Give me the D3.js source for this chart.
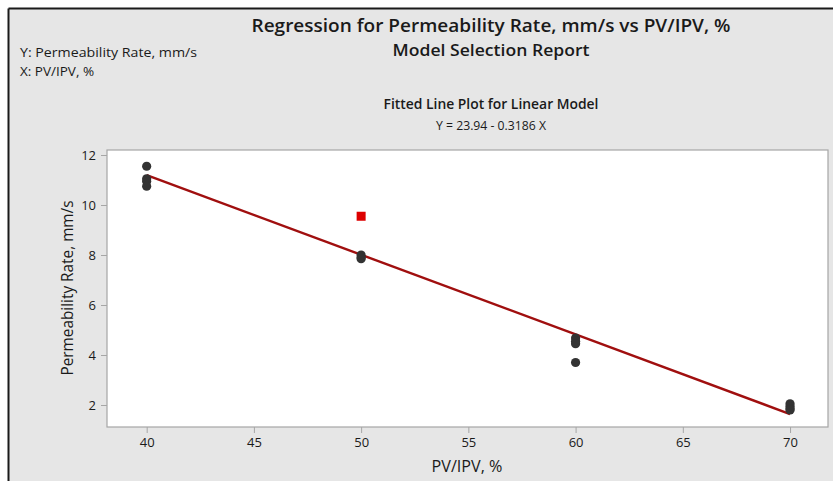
<!DOCTYPE html>
<html>
<head>
<meta charset="utf-8">
<script src="https://cdn.jsdelivr.net/npm/d3@7"></script>
<style>
  html, body { margin: 0; padding: 0; background: #ffffff; }
  svg { display: block; }
  text { font-family: "Open Sans", "Noto Sans", sans-serif; fill: #1a1a1a; }
</style>
</head>
<body>
<svg id="chart" width="833" height="481"></svg>
<script>
// Observations: PV/IPV (%) and permeability rate (mm/s)
const pvIpv = [40, 40, 40, 40, 50, 50, 50, 60, 60, 60, 60, 70, 70, 70, 70];
const permeability = [11.55, 11.05, 10.95, 10.75, 8.0, 7.9, 7.85, 4.68, 4.55, 4.45, 3.7, 2.05, 1.95, 1.85, 1.8];
// Unusual observation flagged in red
const unusualX = [50];
const unusualY = [9.55];
// Fitted model Y = b0 + b1 X
const intercept = 23.94;
const slope = -0.3186;
const xTicks = [40, 45, 50, 55, 60, 65, 70];
const yTicks = [2, 4, 6, 8, 10, 12];

const svg = d3.select("#chart");

// Report panel background with dark frame on top/left
svg.append("rect").attr("x", 9).attr("y", 9).attr("width", 824).attr("height", 472).attr("fill", "#e6e6e6");
svg.append("line").attr("x1", 8.5).attr("x2", 833).attr("y1", 8.5).attr("y2", 8.5).attr("stroke", "#1a1a1a").attr("stroke-width", 2);
svg.append("line").attr("x1", 8.5).attr("x2", 8.5).attr("y1", 8.5).attr("y2", 481).attr("stroke", "#1a1a1a").attr("stroke-width", 2);

// Headings
svg.append("text").attr("x", 491).attr("y", 32).attr("text-anchor", "middle")
  .style("font-size", "18.5px").style("font-weight", 600)
  .attr("textLength", 479).attr("lengthAdjust", "spacingAndGlyphs")
  .text("Regression for Permeability Rate, mm/s vs PV/IPV, %");
svg.append("text").attr("x", 491).attr("y", 56).attr("text-anchor", "middle")
  .style("font-size", "16.5px").style("font-weight", 600)
  .attr("textLength", 197).attr("lengthAdjust", "spacingAndGlyphs")
  .text("Model Selection Report");
svg.append("text").attr("x", 20).attr("y", 57).style("font-size", "13.5px")
  .attr("textLength", 177).attr("lengthAdjust", "spacingAndGlyphs")
  .text("Y: Permeability Rate, mm/s");
svg.append("text").attr("x", 20).attr("y", 76).style("font-size", "13.5px")
  .text("X: PV/IPV, %");
svg.append("text").attr("x", 491).attr("y", 109).attr("text-anchor", "middle")
  .style("font-size", "14.5px").style("font-weight", 600)
  .attr("textLength", 215).attr("lengthAdjust", "spacingAndGlyphs")
  .text("Fitted Line Plot for Linear Model");
svg.append("text").attr("x", 491).attr("y", 130).attr("text-anchor", "middle")
  .style("font-size", "13.5px")
  .attr("textLength", 110).attr("lengthAdjust", "spacingAndGlyphs")
  .text("Y = 23.94 - 0.3186 X");

// Plot area
const plotL = 107, plotR = 828, plotT = 150, plotB = 427;
const x = d3.scaleLinear().domain([38.15, 71.77]).range([plotL, plotR]);
const y = d3.scaleLinear().domain([1.12, 12.2]).range([plotB, plotT]);

svg.append("rect").attr("x", plotL).attr("y", plotT).attr("width", plotR - plotL).attr("height", plotB - plotT)
  .attr("fill", "#ffffff").attr("stroke", "#a6a6a6").attr("stroke-width", 1.2);

const xAxis = svg.append("g").attr("transform", `translate(0,${plotB})`)
  .call(d3.axisBottom(x).tickValues(xTicks).tickSize(6).tickPadding(5).tickFormat(d3.format("d")));
const yAxis = svg.append("g").attr("transform", `translate(${plotL},0)`)
  .call(d3.axisLeft(y).tickValues(yTicks).tickSize(6).tickPadding(5).tickFormat(d3.format("d")));
[xAxis, yAxis].forEach(g => {
  g.select(".domain").remove();
  g.selectAll(".tick line").attr("stroke", "#a6a6a6");
  g.selectAll(".tick text").style("font-size", "13px").style("font-family", "'Open Sans', sans-serif").attr("fill", "#1a1a1a");
});

svg.append("text").attr("x", 467).attr("y", 472).attr("text-anchor", "middle")
  .style("font-size", "15.5px").attr("textLength", 71).attr("lengthAdjust", "spacingAndGlyphs")
  .text("PV/IPV, %");
svg.append("text").attr("transform", "translate(73,288) rotate(-90)").attr("text-anchor", "middle")
  .style("font-size", "15.5px").attr("textLength", 175).attr("lengthAdjust", "spacingAndGlyphs")
  .text("Permeability Rate, mm/s");

// Fitted line across the observed X range
const xr = d3.extent(pvIpv);
svg.append("line")
  .attr("x1", x(xr[0])).attr("y1", y(intercept + slope * xr[0]))
  .attr("x2", x(xr[1])).attr("y2", y(intercept + slope * xr[1]))
  .attr("stroke", "#a00f0f").attr("stroke-width", 2.4);

// Observations
svg.append("g").selectAll("circle").data(pvIpv.map((v, i) => [v, permeability[i]]))
  .join("circle")
  .attr("cx", d => x(d[0])).attr("cy", d => y(d[1])).attr("r", 4.6)
  .attr("fill", "#333333");

svg.append("g").selectAll("rect").data(unusualX.map((v, i) => [v, unusualY[i]]))
  .join("rect")
  .attr("x", d => x(d[0]) - 4.5).attr("y", d => y(d[1]) - 4.5)
  .attr("width", 9).attr("height", 9).attr("fill", "#dd0000");
</script>
</body>
</html>
